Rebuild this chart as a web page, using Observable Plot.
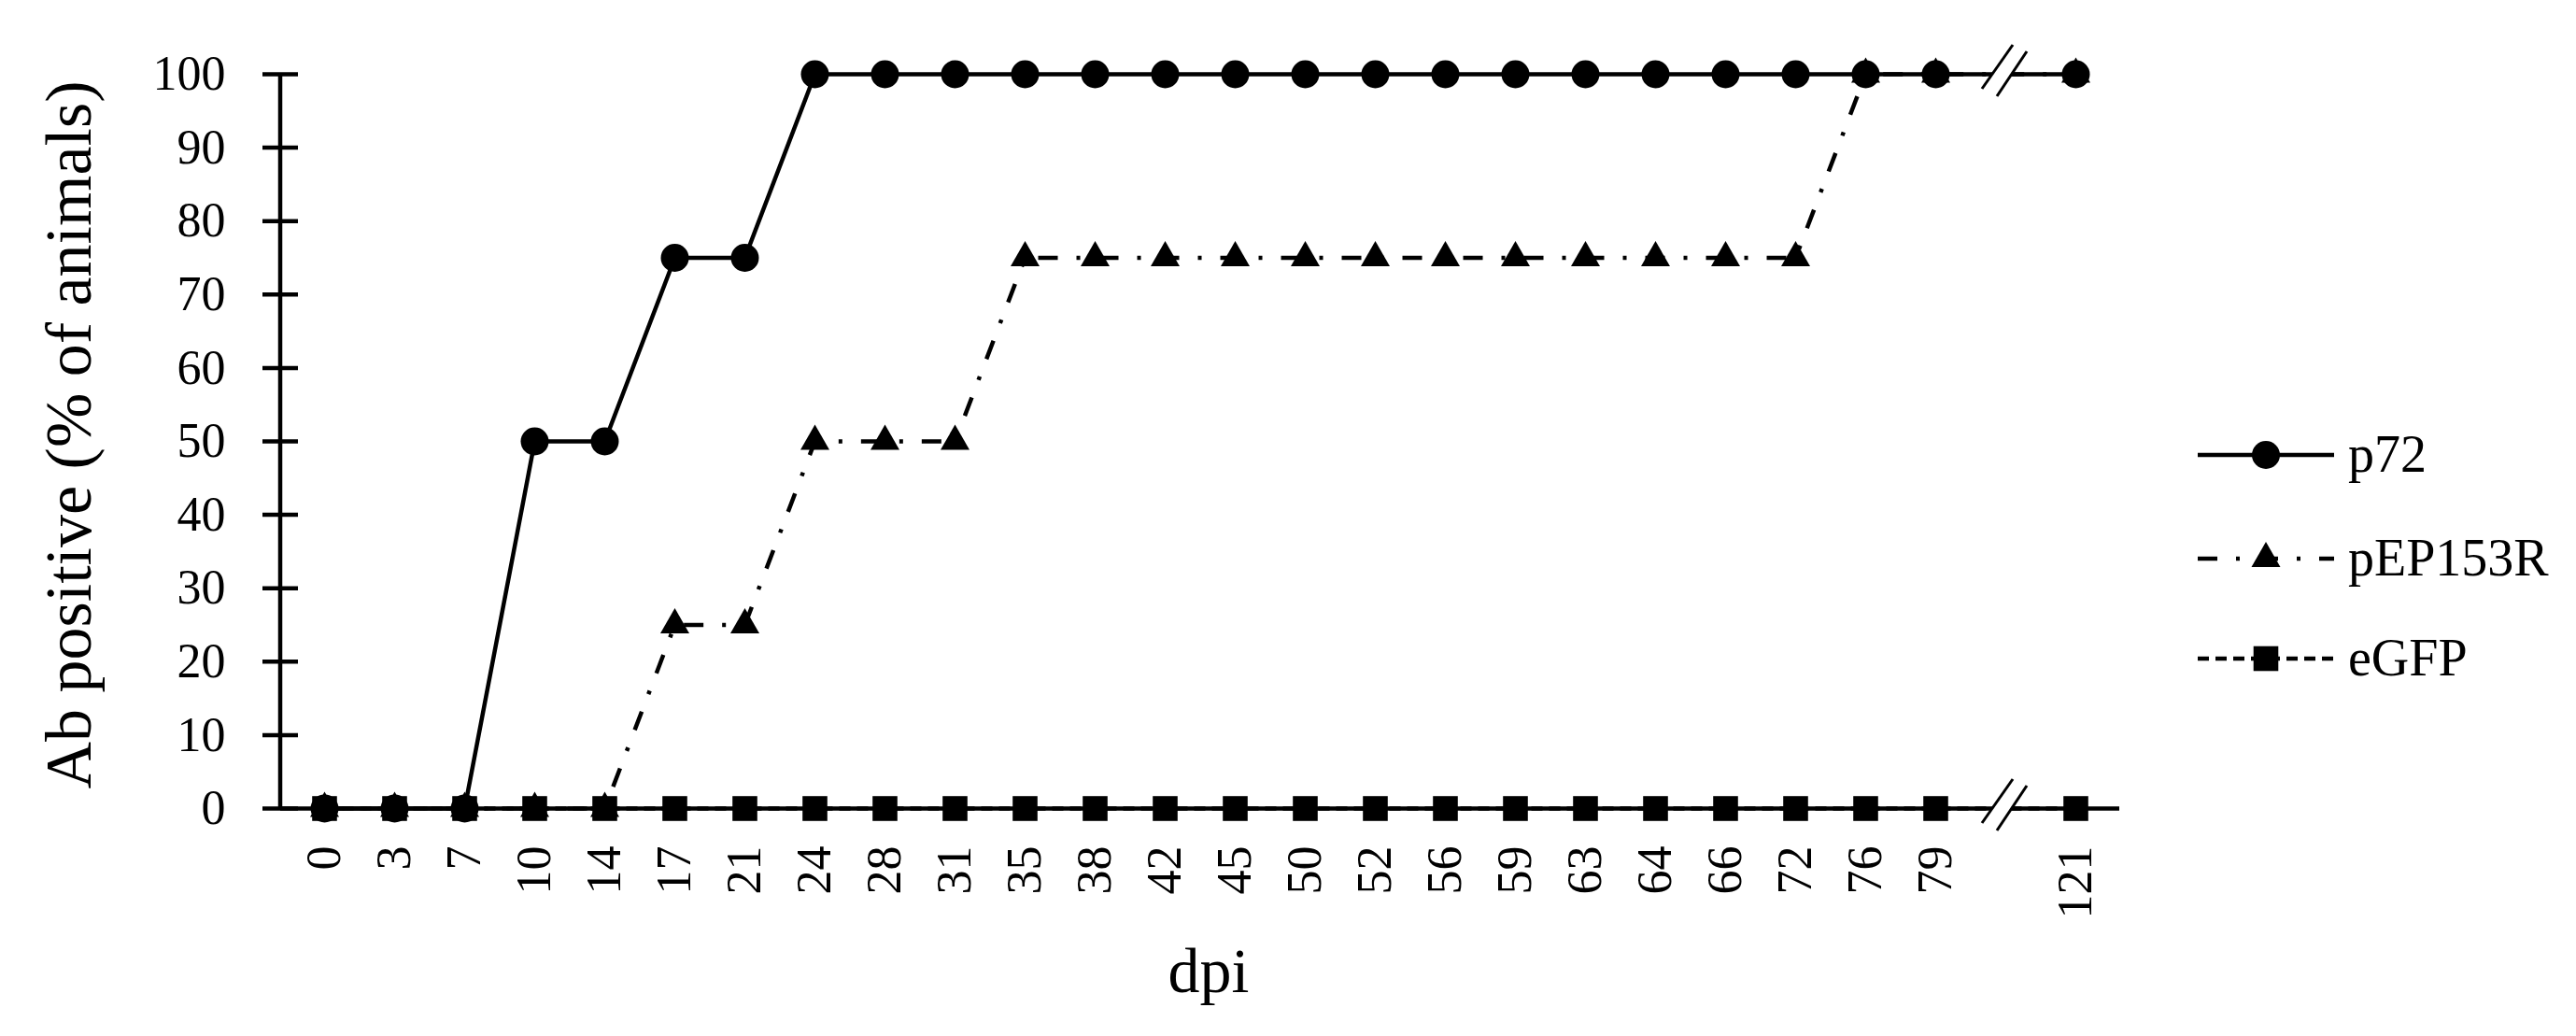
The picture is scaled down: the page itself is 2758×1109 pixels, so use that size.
<!DOCTYPE html>
<html>
<head>
<meta charset="utf-8">
<script src="https://cdn.jsdelivr.net/npm/d3@7"></script>
<script src="https://cdn.jsdelivr.net/npm/@observablehq/plot@0.6"></script>
<style>
  html, body { margin: 0; padding: 0; background: #fff; }
  #chart svg { display: block; }
</style>
</head>
<body>
<div id="chart"></div>
<script>
// ---- data ----
const dpi = ["0","3","7","10","14","17","21","24","28","31","35","38","42","45","50","52","56","59","63","64","66","72","76","79","121"];
const p72     = [0,0,0,50,50,75,75,100,100,100,100,100,100,100,100,100,100,100,100,100,100,100,100,100,100];
const pEP153R = [0,0,0,0,0,25,25,50,50,50,75,75,75,75,75,75,75,75,75,75,75,75,100,100,100];
const eGFP    = [0,0,0,0,0,0,0,0,0,0,0,0,0,0,0,0,0,0,0,0,0,0,0,0,0];
const yTicks  = [0,10,20,30,40,50,60,70,80,90,100];
const seriesNames = ["p72","pEP153R","eGFP"];
const breakAfter = "79";           // axis break sits between 79 and 121
const BREAK = "\u2016";             // placeholder slot for the break

const yTitle = "Ab positive (% of animals)";
const xTitle = "dpi";

// ---- styles ----
const FONT = "'Palatino Linotype','Book Antiqua',Palatino,'Liberation Serif','Times New Roman',serif";
const styles = {
  p72:     {symbol: "circle",   r: 15,   dash: null},
  pEP153R: {symbol: "triangle", r: 11.5, dash: "21,20,4,20"},
  eGFP:    {symbol: "square",   r: 15,   dash: "12,7"}
};
const LW = 4.5;

const bi = dpi.indexOf(breakAfter) + 1;
const xDomain = [...dpi.slice(0, bi), BREAK, ...dpi.slice(bi)];
const rows = {
  p72: dpi.map((d, i) => ({dpi: d, value: p72[i]})),
  pEP153R: dpi.map((d, i) => ({dpi: d, value: pEP153R[i]})),
  eGFP: dpi.map((d, i) => ({dpi: d, value: eGFP[i]}))
};

function seriesMarks(name) {
  const s = styles[name];
  return [
    Plot.line(rows[name], {x: "dpi", y: "value", stroke: "black", strokeWidth: LW,
      strokeDasharray: s.dash ?? undefined, strokeLinecap: "butt", strokeLinejoin: "miter"}),
    Plot.dot(rows[name], {x: "dpi", y: "value", symbol: s.symbol, r: s.r, fill: "black", stroke: "none"})
  ];
}

// y axis line (left frame edge)
function yAxisLine(index, scales, values, dim) {
  const g = d3.create("svg:g");
  g.append("line")
    .attr("x1", dim.marginLeft).attr("x2", dim.marginLeft)
    .attr("y1", scales.y(100)).attr("y2", scales.y(0))
    .attr("stroke", "black").attr("stroke-width", LW);
  return g.node();
}

// axis break marks  //
function breakMarks(index, scales) {
  const g = d3.create("svg:g");
  const xb = scales.x(BREAK);
  for (const v of [0, 100]) {
    const y = scales.y(v);
    const s1 = [[xb - 25, y + 16], [xb + 8, y - 31]];
    const s2 = [[xb - 9, y + 24], [xb + 23, y - 24]];
    g.append("path")
      .attr("d", `M${s1[0]}L${s1[1]}L${s2[1]}L${s2[0]}Z`)
      .attr("fill", "white").attr("stroke", "none");
    for (const s of [s1, s2]) {
      g.append("line")
        .attr("x1", s[0][0]).attr("y1", s[0][1])
        .attr("x2", s[1][0]).attr("y2", s[1][1])
        .attr("stroke", "black").attr("stroke-width", 3);
    }
  }
  return g.node();
}

// legend (right side)
function legend() {
  const g = d3.create("svg:g");
  const rowsY = [487, 598, 705];
  const x0 = 2353, x1 = 2499, xm = 2426, xt = 2514;
  seriesNames.forEach((name, i) => {
    const s = styles[name];
    const y = rowsY[i];
    g.append("line")
      .attr("x1", x0).attr("x2", x1).attr("y1", y).attr("y2", y)
      .attr("stroke", "black").attr("stroke-width", LW)
      .attr("stroke-dasharray", s.dash).attr("stroke-linecap", "butt");
    const sym = {circle: d3.symbolCircle, triangle: d3.symbolTriangle, square: d3.symbolSquare}[s.symbol];
    g.append("path")
      .attr("d", d3.symbol(sym, Math.PI * s.r * s.r)())
      .attr("transform", `translate(${xm},${y})`)
      .attr("fill", "black");
    g.append("text")
      .attr("x", xt).attr("y", y).attr("dy", "0.32em")
      .attr("text-anchor", "start")
      .attr("font-family", FONT).attr("font-size", 56)
      .attr("fill", "black")
      .text(name);
  });
  return g.node();
}

const chart = Plot.plot({
  width: 2758,
  height: 1109,
  marginLeft: 300,
  marginRight: 489,
  marginTop: 79,
  marginBottom: 244,
  style: {fontFamily: FONT, fontSize: "52px", color: "black", background: "white", overflow: "visible"},
  x: {type: "point", domain: xDomain, padding: 0.5},
  y: {domain: [0, 100]},
  marks: [
    // y axis: crossing ticks + labels
    Plot.axisY(yTicks, {tickSize: 38, dx: 19, tickFormat: () => "", label: null, strokeWidth: LW}),
    Plot.axisY(yTicks, {tickSize: 0, tickPadding: 59, label: null, fontSize: 52}),
    // x axis labels (rotated)
    Plot.axisX(dpi, {tickSize: 0, tickPadding: 40, tickRotate: -90, label: null, fontSize: 52}),
    yAxisLine,
    Plot.ruleY([0], {strokeWidth: LW, stroke: "black"}),
    ...seriesMarks("p72"),
    ...seriesMarks("pEP153R"),
    ...seriesMarks("eGFP"),
    breakMarks,
    // titles
    Plot.text([yTitle], {text: d => d, frameAnchor: "left", textAnchor: "middle", lineAnchor: "middle",
      rotate: -90, dx: -226, dy: -7, fontSize: 70}),
    Plot.text([xTitle], {text: d => d, frameAnchor: "bottom", textAnchor: "middle", lineAnchor: "middle",
      dx: 9, dy: 175, fontSize: 68}),
    legend
  ]
});
document.getElementById("chart").appendChild(chart);
</script>
</body>
</html>
